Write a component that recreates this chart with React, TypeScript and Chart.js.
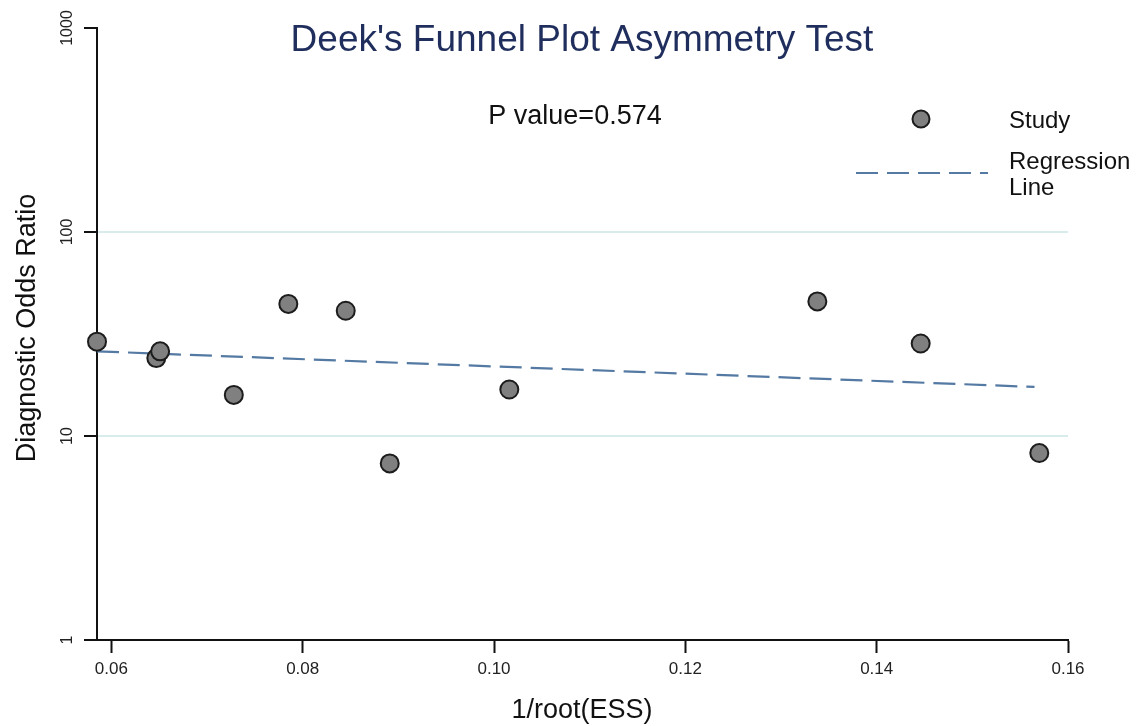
import React, { useEffect, useRef } from "react";
import { Chart, registerables } from "chart.js";

Chart.register(...registerables);

const studyX = [0.0585, 0.0647, 0.0651, 0.0728, 0.0785, 0.0845, 0.0891, 0.1016, 0.1338, 0.1446, 0.157];
const studyDOR = [29.0, 24.1, 26.0, 15.9, 44.4, 41.1, 7.34, 16.9, 45.7, 28.4, 8.25];
const regX = [0.0585, 0.1565];
const regDOR = [26.0, 17.4];
const xTicks = [0.06, 0.08, 0.1, 0.12, 0.14, 0.16];
const xTickLabels = ["0.06", "0.08", "0.10", "0.12", "0.14", "0.16"];
const yTicks = [1, 10, 100, 1000];
const yTickLabels = ["1", "10", "100", "1000"];
const gridValues = [10, 100];

const TITLE = "Deek's Funnel Plot Asymmetry Test";
const PVALUE = "P value=0.574";
const X_TITLE = "1/root(ESS)";
const Y_TITLE = "Diagnostic Odds Ratio";
const LEGEND_STUDY = "Study";
const LEGEND_REG = ["Regression", "Line"];

const FONT = "'Liberation Sans', Arial, Helvetica, sans-serif";
const POINT_FILL = "#808080";
const POINT_EDGE = "#1c1c1c";
const REG_COLOR = "#5479a3";
const DASH = [22, 9];

const textPlugin = {
  id: "textPlugin",
  afterDraw(chart: any) {
    const ctx: CanvasRenderingContext2D = chart.ctx;
    const xs = chart.scales.x;
    const ys = chart.scales.y;
    ctx.save();
    // title
    ctx.fillStyle = "#1f2e5c";
    ctx.font = `37px ${FONT}`;
    ctx.textAlign = "center";
    ctx.textBaseline = "alphabetic";
    ctx.fillText(TITLE, 582, 51);
    // p value
    ctx.fillStyle = "#111";
    ctx.font = `27px ${FONT}`;
    ctx.fillText(PVALUE, 575, 124);
    // x tick labels
    ctx.fillStyle = "#222";
    ctx.font = `17px ${FONT}`;
    xTicks.forEach((v, i) => {
      ctx.fillText(xTickLabels[i], xs.getPixelForValue(v), 674);
    });
    // y tick labels, rotated
    ctx.font = `16px ${FONT}`;
    yTicks.forEach((v, i) => {
      ctx.save();
      ctx.translate(72, ys.getPixelForValue(v));
      ctx.rotate(-Math.PI / 2);
      ctx.textAlign = "center";
      ctx.fillText(yTickLabels[i], 0, 0);
      ctx.restore();
    });
    // axis titles
    ctx.fillStyle = "#111";
    ctx.font = `27px ${FONT}`;
    ctx.textAlign = "center";
    ctx.fillText(X_TITLE, 582, 718);
    ctx.save();
    ctx.translate(35, 328);
    ctx.rotate(-Math.PI / 2);
    ctx.fillText(Y_TITLE, 0, 0);
    ctx.restore();
    // legend
    ctx.beginPath();
    ctx.arc(921, 119, 8.5, 0, Math.PI * 2);
    ctx.fillStyle = POINT_FILL;
    ctx.fill();
    ctx.lineWidth = 2;
    ctx.strokeStyle = POINT_EDGE;
    ctx.stroke();
    ctx.save();
    ctx.beginPath();
    ctx.setLineDash(DASH);
    ctx.strokeStyle = REG_COLOR;
    ctx.lineWidth = 2;
    ctx.moveTo(856, 173);
    ctx.lineTo(988, 173);
    ctx.stroke();
    ctx.restore();
    ctx.fillStyle = "#111";
    ctx.font = `24px ${FONT}`;
    ctx.textAlign = "left";
    ctx.fillText(LEGEND_STUDY, 1009, 128);
    ctx.fillText(LEGEND_REG[0], 1009, 169);
    ctx.fillText(LEGEND_REG[1], 1009, 195);
    ctx.restore();
  },
};

export default function App() {
  const ref = useRef<HTMLCanvasElement | null>(null);
  useEffect(() => {
    if (!ref.current) return;
    const chart = new Chart(ref.current, {
      type: "scatter",
      data: {
        datasets: [
          {
            type: "line",
            label: "Regression Line",
            data: regX.map((x, i) => ({ x, y: regDOR[i] })),
            borderColor: REG_COLOR,
            borderWidth: 2.2,
            borderDash: DASH,
            pointRadius: 0,
            fill: false,
            clip: false as any,
            order: 2,
          } as any,
          {
            label: "Study",
            data: studyX.map((x, i) => ({ x, y: studyDOR[i] })),
            backgroundColor: POINT_FILL,
            borderColor: POINT_EDGE,
            borderWidth: 2,
            pointRadius: 9,
            clip: false as any,
            order: 1,
          } as any,
        ],
      },
      options: {
        responsive: false,
        animation: false,
        layout: { padding: { left: 0, right: 80, top: 28, bottom: 0 } },
        plugins: {
          legend: { display: false },
          tooltip: { enabled: false },
          title: { display: false },
        },
        scales: {
          x: {
            type: "linear",
            min: 0.0585,
            max: 0.16,
            afterBuildTicks: (s: any) => {
              s.ticks = xTicks.map((v) => ({ value: v }));
            },
            afterFit: (s: any) => {
              s.height = 86;
            },
            ticks: { display: false },
            grid: {
              color: "rgba(0,0,0,0)",
              drawTicks: true,
              tickLength: 13,
              tickColor: "#111",
              tickWidth: 2,
            },
            border: { display: true, color: "#111", width: 2 },
          },
          y: {
            type: "logarithmic",
            min: 1,
            max: 1000,
            afterBuildTicks: (s: any) => {
              s.ticks = yTicks.map((v) => ({ value: v }));
            },
            afterFit: (s: any) => {
              s.width = 97;
            },
            ticks: { display: false },
            grid: {
              color: (c: any) => (c.tick && gridValues.includes(c.tick.value) ? "#d9ecec" : "rgba(0,0,0,0)"),
              lineWidth: 2,
              drawTicks: true,
              tickLength: 13,
              tickColor: "#111",
              tickWidth: 2,
            },
            border: { display: true, color: "#111", width: 2 },
          },
        },
      },
      plugins: [textPlugin],
    } as any);
    return () => chart.destroy();
  }, []);
  return (
    <div style={{ position: "absolute", left: 0, top: 0, width: 1148, height: 726, background: "#fff" }}>
      <canvas ref={ref} width={1148} height={726} style={{ display: "block" }} />
    </div>
  );
}
